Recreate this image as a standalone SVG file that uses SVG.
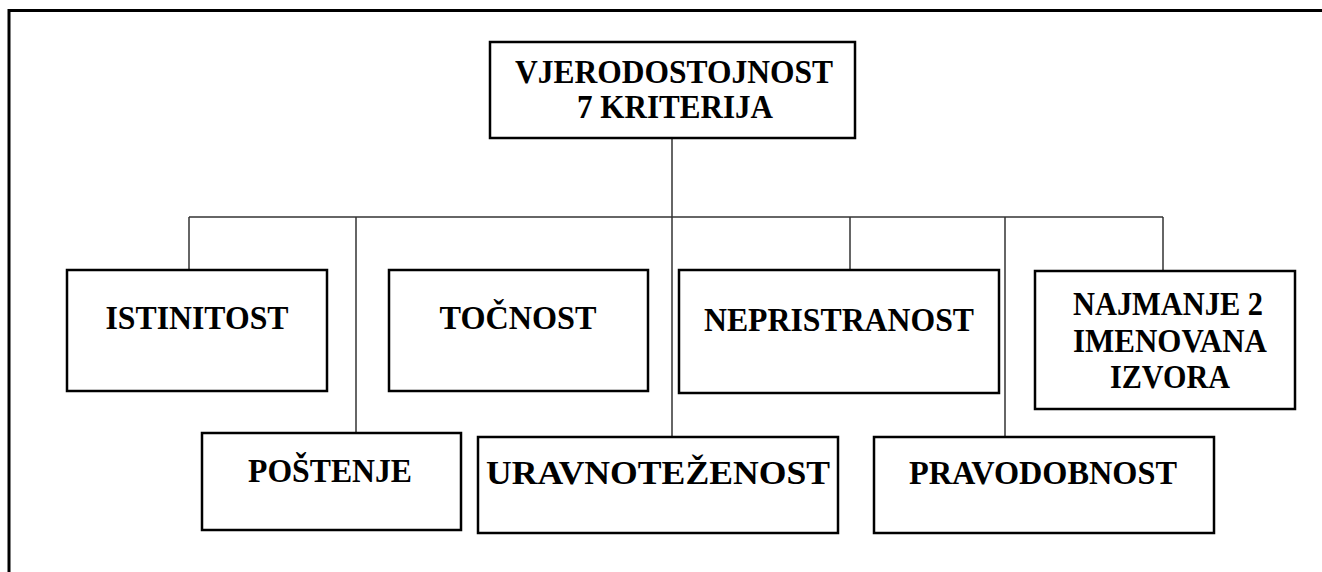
<svg xmlns="http://www.w3.org/2000/svg" width="1322" height="572" viewBox="0 0 1322 572">
<style>
.box{fill:#fff;stroke:#000;stroke-width:2.5}
.lbl{font-family:"Liberation Serif","Times New Roman",serif;font-weight:bold;font-size:34px;fill:#000;text-anchor:middle}
.con{stroke:#333;stroke-width:1.5;fill:none}
</style>
<rect width="1322" height="572" fill="#fff"/>
<path d="M9,572 V10.5 H1322" fill="none" stroke="#000" stroke-width="3"/>
<g id="connectors">
<path class="con" d="M672,138 V437"/>
<path class="con" d="M189,217 H1163"/>
<path class="con" d="M189,217 V270"/>
<path class="con" d="M356,217 V433"/>
<path class="con" d="M850,217 V270"/>
<path class="con" d="M1005,217 V437"/>
<path class="con" d="M1163,217 V271"/>
</g>
<g id="root">
<rect class="box" x="490" y="42" width="365" height="96"/>
<text class="lbl" x="674" y="83" textLength="318" lengthAdjust="spacingAndGlyphs">VJERODOSTOJNOST</text>
<text class="lbl" x="675" y="118" textLength="196" lengthAdjust="spacingAndGlyphs">7 KRITERIJA</text>
</g>
<g id="istinitost">
<rect class="box" x="67" y="270" width="260" height="121"/>
<text class="lbl" x="197" y="329" textLength="183" lengthAdjust="spacingAndGlyphs">ISTINITOST</text>
</g>
<g id="tocnost">
<rect class="box" x="389" y="270" width="259" height="121"/>
<text class="lbl" x="518" y="329" textLength="157" lengthAdjust="spacingAndGlyphs">TOČNOST</text>
</g>
<g id="nepristranost">
<rect class="box" x="679" y="270" width="320" height="123"/>
<text class="lbl" x="839" y="331" textLength="270" lengthAdjust="spacingAndGlyphs">NEPRISTRANOST</text>
</g>
<g id="najmanje">
<rect class="box" x="1035" y="271" width="260" height="138"/>
<text class="lbl" x="1168" y="315" textLength="190" lengthAdjust="spacingAndGlyphs">NAJMANJE 2</text>
<text class="lbl" x="1170" y="352" textLength="194" lengthAdjust="spacingAndGlyphs">IMENOVANA</text>
<text class="lbl" x="1170" y="388" textLength="120" lengthAdjust="spacingAndGlyphs">IZVORA</text>
</g>
<g id="postenje">
<rect class="box" x="202" y="433" width="259" height="97"/>
<text class="lbl" x="330" y="482" textLength="164" lengthAdjust="spacingAndGlyphs">POŠTENJE</text>
</g>
<g id="uravnotezenost">
<rect class="box" x="478" y="437" width="360" height="96"/>
<text class="lbl" x="658" y="484" textLength="344" lengthAdjust="spacingAndGlyphs">URAVNOTEŽENOST</text>
</g>
<g id="pravodobnost">
<rect class="box" x="874" y="437" width="340" height="96"/>
<text class="lbl" x="1043" y="484" textLength="268" lengthAdjust="spacingAndGlyphs">PRAVODOBNOST</text>
</g>
</svg>
